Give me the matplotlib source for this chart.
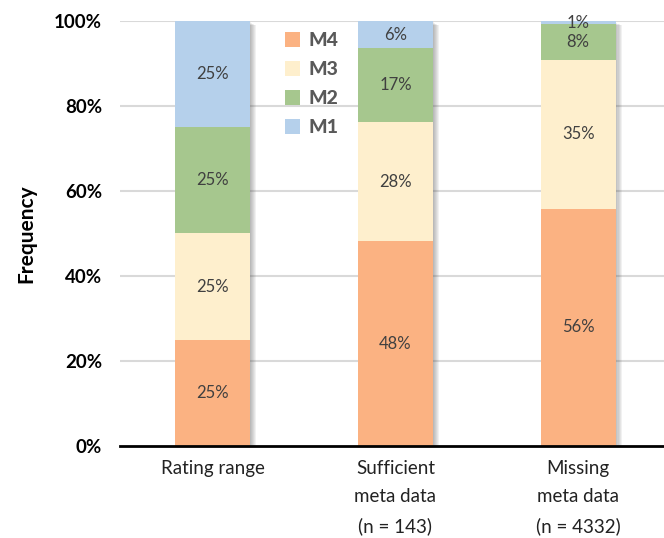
import numpy as np
import matplotlib
matplotlib.use("Agg")
import matplotlib.pyplot as plt
from matplotlib.patches import Rectangle
from matplotlib.ticker import FuncFormatter
from matplotlib.font_manager import FontProperties

plt.rcParams['font.family'] = ['Lato', 'DejaVu Sans']

categories = ['Rating range', 'Sufficient\nmeta data\n(n = 143)', 'Missing\nmeta data\n(n = 4332)']
series = ['M4', 'M3', 'M2', 'M1']
m4 = [25, 48.2, 55.8]
m3 = [25, 28.0, 35.0]
m2 = [25, 17.4, 8.4]
m1 = [25, 6.4, 0.8]
colors = {'M4': '#FBB282', 'M3': '#FEEFCD', 'M2': '#A6C78E', 'M1': '#B5D0EB'}

values = {'M4': m4, 'M3': m3, 'M2': m2, 'M1': m1}
x = np.arange(len(categories))
width = 0.41

fig = plt.figure(figsize=(6.64, 5.38), dpi=100)
ax = fig.add_axes([0.181, 0.171, 0.819, 0.79])

# gridlines
for yv in [20, 40, 60, 80, 100]:
    ax.axhline(yv, color='#D9D9D9', lw=1.5, zorder=0)

# soft drop shadow to the right of every bar
totals = np.sum([m4, m3, m2, m1], axis=0)
for xi, t in zip(x, totals):
    for k in range(6):
        off = 0.004 + k * 0.006
        ax.add_patch(Rectangle((xi - width / 2 + off, 0), width, t - 0.3 - k * 0.15,
                               color='#505050', alpha=0.08, lw=0, zorder=1))

bottom = np.zeros(len(categories))
for s in series:
    v = np.array(values[s])
    ax.bar(x, v, width, bottom=bottom, color=colors[s], label=s, zorder=2)
    for xi, b, h in zip(x, bottom, v):
        ax.text(xi, b + h / 2, '%d%%' % round(h), ha='center', va='center',
                fontsize=12, color='#404040', zorder=3)
    bottom += v

ax.set_xlim(-0.507, 2.47)
ax.set_ylim(0, 100)
ax.set_yticks([0, 20, 40, 60, 80, 100])
ax.yaxis.set_major_formatter(FuncFormatter(lambda v, p: '%d%%' % v))
ax.set_xticks(x)
ax.set_xticklabels(categories, fontsize=13.5, color='#222222', linespacing=1.8)
for lab in ax.get_yticklabels():
    lab.set_fontweight('bold')
    lab.set_fontsize(13.5)
ax.tick_params(axis='both', length=0)
ax.tick_params(axis='y', pad=13)
ax.tick_params(axis='x', pad=10)

for sp in ['top', 'right', 'left']:
    ax.spines[sp].set_visible(False)
ax.spines['bottom'].set_linewidth(2)
ax.spines['bottom'].set_color('black')
ax.spines['bottom'].set_zorder(4)

ax.set_ylabel('Frequency', fontsize=15, fontweight='bold', labelpad=13)

leg_font = FontProperties(family=['Lato', 'DejaVu Sans'], weight='black', size=14)
leg = ax.legend(loc='upper left', bbox_to_anchor=(0.27, 1.015), frameon=False,
                handlelength=0.8, handleheight=0.8, handletextpad=0.45,
                labelspacing=0.6, prop=leg_font)
for t in leg.get_texts():
    t.set_color('#595959')

fig.savefig('out.png', dpi=100)
